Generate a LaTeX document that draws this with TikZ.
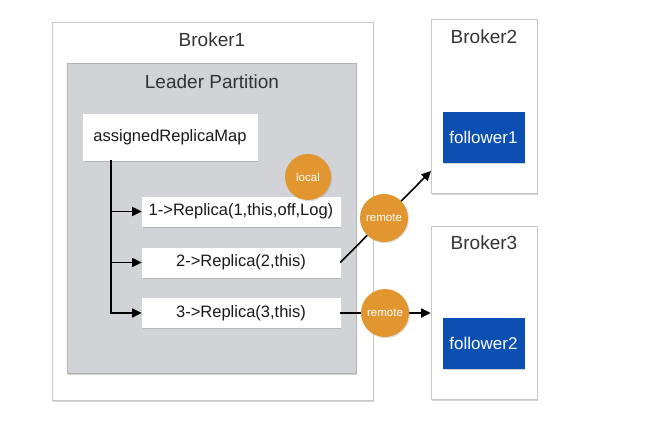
\documentclass[tikz,border=0pt]{standalone}
\usepackage{fontspec}
\setmainfont{Liberation Sans}
\usetikzlibrary{shadows,arrows.meta}
\definecolor{panelgray}{HTML}{D1D3D6}
\definecolor{tagorange}{HTML}{E2962F}
\definecolor{followblue}{HTML}{0B4FB3}
\definecolor{textgray}{HTML}{333333}
\tikzset{
BOX/.style={draw=#1,line width=0.6pt,inner sep=0pt,drop shadow={opacity=0.35,shadow xshift=1.2pt,shadow yshift=-1.5pt}},
BROKER/.style={BOX=black!22,fill=white},
PANEL/.style={BOX=black!30,fill=panelgray},
ENTRY/.style={BOX=white,fill=white,text=black!90,font=\fontsize{16.5}{18}\selectfont},
FOLLOWER/.style={BOX=followblue,fill=followblue,text=white,font=\fontsize{17}{19}\selectfont},
TAG/.style={circle,fill=tagorange,draw=none,minimum size=#1,inner sep=0pt,text=white,font=\fontsize{11.5}{13}\selectfont,drop shadow={opacity=0.25,shadow xshift=1pt,shadow yshift=-1.2pt}},
TAG/.default=48pt,
TITLE/.style={text=textgray,font=\fontsize{19}{22}\selectfont},
LINK/.style={draw=black,line width=1.6pt,-{Triangle[length=9.5pt,width=9pt]}},
}
\begin{document}
\begin{tikzpicture}[x=1pt,y=-1pt]
	\useasboundingbox (0,0) rectangle (659,424);
	\node[BROKER,minimum width=321pt,minimum height=378pt] (broker1) at (212.5,211) {};
	\node[TITLE] (broker1title) at (212,40) {Broker1};
	\node[PANEL,minimum width=289pt,minimum height=310pt] (leader) at (211.5,218) {};
	\node[TITLE] (leadertitle) at (212,82) {Leader Partition};
	\node[ENTRY,minimum width=174pt,minimum height=46pt] (map) at (170,137) {assignedReplicaMap};
	\node[ENTRY,minimum width=198pt,minimum height=29pt] (rep1) at (241,211.5) {1->Replica(1,this,off,Log)};
	\node[ENTRY,minimum width=198pt,minimum height=29pt] (rep2) at (241,262.5) {2->Replica(2,this)};
	\node[ENTRY,minimum width=198pt,minimum height=29pt] (rep3) at (241,313) {3->Replica(3,this)};
	\node[TAG=46pt] (local) at (308,177) {local};
	\node[BROKER,minimum width=106pt,minimum height=174pt] (broker2) at (484,106) {};
	\node[TITLE] (broker2title) at (484,37) {Broker2};
	\node[FOLLOWER,minimum width=81pt,minimum height=50pt] (follower1) at (483.5,137) {follower1};
	\node[BROKER,minimum width=106pt,minimum height=173pt] (broker3) at (484,312.5) {};
	\node[TITLE] (broker3title) at (484,243) {Broker3};
	\node[FOLLOWER,minimum width=81pt,minimum height=50pt] (follower2) at (483.5,343) {follower2};
	\coordinate (trunk) at ([xshift=28pt]map.south west);
	\coordinate (b2in) at (431,171);
	\draw[LINK] (trunk) |- (rep3.west);
	\draw[LINK] (trunk |- rep1.west) -- (rep1.west);
	\draw[LINK] (trunk |- rep2.west) -- (rep2.west);
	\draw[LINK] (rep2.east) -- (b2in);
	\draw[LINK] (rep3.east) -- (rep3.east -| broker3.west);
	\node[TAG] (remote1) at (384,218) {remote};
	\node[TAG] (remote2) at (385,313) {remote};
\end{tikzpicture}
\end{document}
